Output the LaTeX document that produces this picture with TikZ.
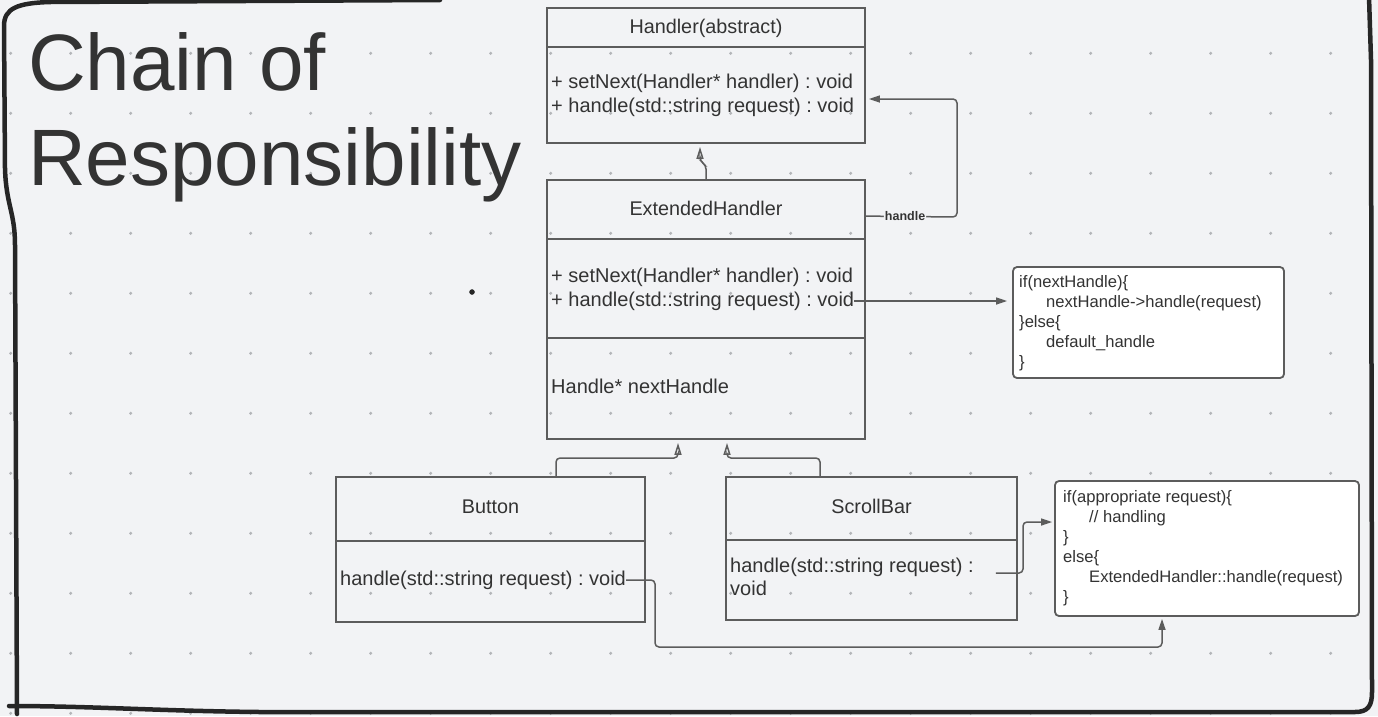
\documentclass[tikz,border=0pt]{standalone}
\usepackage{fontspec}
\setmainfont{Liberation Sans}
\usepackage{tikz}
\usetikzlibrary{arrows.meta}
\usetikzlibrary{calc}
\frenchspacing

\definecolor{bg}{HTML}{F2F3F5}
\definecolor{ink}{HTML}{333333}
\definecolor{linegray}{HTML}{5C5C5C}
\definecolor{dotgray}{HTML}{B4B6B9}
\definecolor{framecol}{HTML}{262626}

\begin{document}
\begin{tikzpicture}
  [x=1pt,y=-1pt,
  griddot/.style={fill=dotgray},
  blackdot/.style={circle,draw=framecol,fill=framecol,inner sep=0pt,minimum size=5pt},
  sketchframe/.style={draw=framecol,line width=4.5pt,line cap=round,line join=round},
  classbox/.style={draw=linegray,line width=1.8pt,inner sep=0pt},
  divider/.style={draw=linegray,line width=1.8pt},
  classname/.style={anchor=base,text=ink,inner sep=0pt,font=\fontsize{19.8}{23}\selectfont},
  member/.style={anchor=base west,text=ink,inner sep=0pt,text height=14pt,text depth=4pt,font=\fontsize{20}{23}\selectfont},
  notebox/.style={draw=linegray,fill=white,line width=1.8pt,rounded corners=4pt,inner sep=0pt},
  notetext/.style={anchor=north west,align=left,text=ink,inner sep=0pt,font=\fontsize{16.6}{20}\selectfont},
  conn/.style={draw=linegray,line width=1.5pt,rounded corners=4pt,-{Triangle[length=11pt,width=7pt]}},
  generalize/.style={draw=linegray,line width=1.5pt,rounded corners=4pt,-{Triangle[open,length=12pt,width=7pt]}},
  handlelabel/.style={fill=bg,inner sep=1pt,text=ink,font=\bfseries\fontsize{12.5}{14}\selectfont},
  bigtitle/.style={anchor=base west,text=ink,inner sep=0pt,font=\fontsize{80}{95}\selectfont}]

  \useasboundingbox (0,0) rectangle (1378,716);
  \fill[bg] (0,0) rectangle (1378,716);
  \foreach \i in {0,...,22}
    \foreach \j in {0,...,11}
      \fill[griddot] ({10.7+60*\i},{53.3+60*\j}) circle (1.7pt);

  \draw[sketchframe] (440,0) -- (50,2) .. controls (18,3) and (4,8) .. (4,26) -- (5,168) .. controls (6,205) and (15,212) .. (15,245) -- (17,714);
  \draw[sketchframe] (9,706) .. controls (90,706) and (160,711) .. (260,712) -- (1355,712) .. controls (1368,712) and (1372,706) .. (1372,692) -- (1371,60) -- (1369,-3);

  \node[bigtitle] (title1) at (28,90) {Chain of};
  \node[bigtitle] (title2) at (28,185) {Responsibility};
  \node[blackdot] (stray) at (472,292) {};

  \node[classbox,minimum width=318pt,minimum height=135pt] (handler) at (706,75.5) {};
  \draw[divider] ([yshift=-40pt]handler.north west) -- ([yshift=-40pt]handler.north east);
  \node[classname] (handlername) at (706,33) {Handler(abstract)};
  \node[member] (hm1) at (551,88) {+ setNext(Handler* handler) : void};
  \node[member] (hm2) at (551,112) {+ handle(std::string request) : void};

  \node[classbox,minimum width=318pt,minimum height=259pt] (ext) at (706,309.5) {};
  \draw[divider] ([yshift=-60pt]ext.north west) -- ([yshift=-60pt]ext.north east);
  \draw[divider] ([yshift=-159pt]ext.north west) -- ([yshift=-159pt]ext.north east);
  \node[classname] (extname) at (706,215) {ExtendedHandler};
  \node[member] (em1) at (551,282) {+ setNext(Handler* handler) : void};
  \node[member] (em2) at (551,306) {+ handle(std::string request) : void};
  \node[member] (eattr) at (551,393) {Handle* nextHandle};

  \node[classbox,minimum width=309pt,minimum height=145pt] (button) at (490.5,549.5) {};
  \draw[divider] ([yshift=-65pt]button.north west) -- ([yshift=-65pt]button.north east);
  \node[classname] (buttonname) at (490.5,513) {Button};
  \node[member] (bm) at (340,585) {handle(std::string request) : void};

  \node[classbox,minimum width=291pt,minimum height=143pt] (scroll) at (871.5,548.5) {};
  \draw[divider] ([yshift=-64pt]scroll.north west) -- ([yshift=-64pt]scroll.north east);
  \node[classname] (scrollname) at (871.5,513) {ScrollBar};
  \node[member] (sm1) at (730,572) {handle(std::string request) :};
  \node[member] (sm2) at (730,595) {void};

  \node[notebox,minimum width=271pt,minimum height=111pt] (note1) at (1148.5,322.5) {};
  \node[notetext] (note1text) at (1019,275) {if(nextHandle)\{\\\hspace*{27pt}nextHandle->handle(request)\\\}else\{\\\hspace*{27pt}default\_handle\\\}};

  \node[notebox,minimum width=304pt,minimum height=135pt] (note2) at (1207,548.5) {};
  \node[notetext] (note2text) at (1063,490) {if(appropriate request)\{\\\hspace*{26pt}// handling\\\}\\else\{\\\hspace*{26pt}ExtendedHandler::handle(request)\\\}};

  \draw[generalize] (ext.north) -- ++(0,-14) -- ++(-6,-4) -- ([xshift=-6pt,yshift=-3pt]handler.south);
  \draw[generalize] ([xshift=65.5pt]button.north) |- (678,458) -- ([xshift=-28pt,yshift=-3pt]ext.south);
  \draw[generalize] ([xshift=-51.5pt]scroll.north) |- (727,458) -- ([xshift=21pt,yshift=-3pt]ext.south);

  \draw[conn] ([yshift=-37pt]ext.north east) -- node[pos=0.43,handlelabel] {handle} (957,217) |- ([xshift=3pt,yshift=-23.5pt]handler.east);
  \draw[conn,shorten >=5pt] (em2.east) -- (em2.east -| note1.west);
  \draw[conn] (bm.east) -| (655,647) -| ([xshift=-45pt,yshift=-2pt]note2.south);
  \draw[conn] ([xshift=22pt,yshift=-6pt]sm1.east) -- (1023,573) |- ([xshift=-2pt,yshift=26.5pt]note2.west);

\end{tikzpicture}
\end{document}
